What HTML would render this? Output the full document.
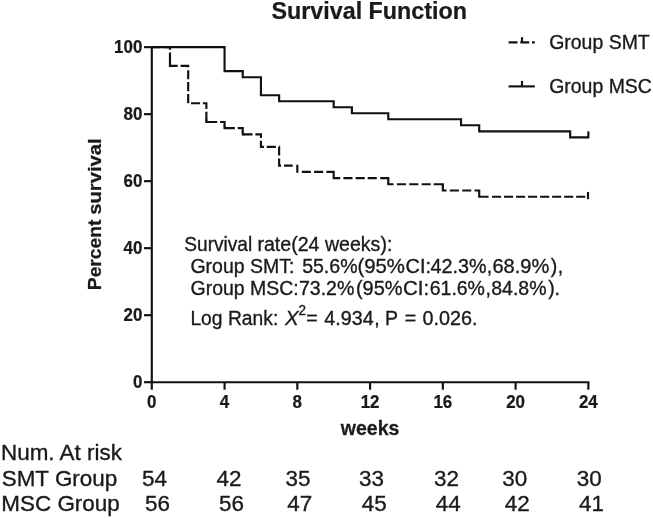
<!DOCTYPE html>
<html><head><meta charset="utf-8"><title>Survival Function</title>
<style>
html,body{margin:0;padding:0;background:#fff;}
body{width:653px;height:518px;overflow:hidden;}
svg{display:block;font-family:"Liberation Sans",Arial,Helvetica,sans-serif;fill:#1a1a1a;}
text{stroke:#1a1a1a;stroke-width:0.35;stroke-linejoin:round;}
.b{font-weight:bold;stroke-width:0.25;}
.ln{fill:none;stroke:#111;stroke-width:2.15;}
</style></head><body>
<svg width="653" height="518" viewBox="0 0 653 518">
<rect width="653" height="518" fill="#fff"/>
<text class="b" transform="translate(369.2 18.6) scale(0.967 1)" font-size="24.1" text-anchor="middle">Survival Function</text>
<path class="ln" d="M151.8 46.15 V383.2"/>
<path class="ln" d="M150.8 382.2 H589.36"/>
<path class="ln" d="M144.0 382.2 H151.8"/>
<text class="b" transform="translate(142.3 388.2) scale(0.94 1)" font-size="18" text-anchor="end">0</text>
<path class="ln" d="M144.0 315.19 H151.8"/>
<text class="b" transform="translate(142.3 321.19) scale(0.94 1)" font-size="18" text-anchor="end">20</text>
<path class="ln" d="M144.0 248.18 H151.8"/>
<text class="b" transform="translate(142.3 254.18) scale(0.94 1)" font-size="18" text-anchor="end">40</text>
<path class="ln" d="M144.0 181.17 H151.8"/>
<text class="b" transform="translate(142.3 187.17) scale(0.94 1)" font-size="18" text-anchor="end">60</text>
<path class="ln" d="M144.0 114.16 H151.8"/>
<text class="b" transform="translate(142.3 120.16) scale(0.94 1)" font-size="18" text-anchor="end">80</text>
<path class="ln" d="M144.0 47.15 H151.8"/>
<text class="b" transform="translate(142.3 53.15) scale(0.94 1)" font-size="18" text-anchor="end">100</text>
<path class="ln" d="M151.8 382.2 V389.7"/>
<text class="b" transform="translate(151.8 407.5) scale(0.94 1)" font-size="18" text-anchor="middle">0</text>
<path class="ln" d="M224.56 382.2 V389.7"/>
<text class="b" transform="translate(224.56 407.5) scale(0.94 1)" font-size="18" text-anchor="middle">4</text>
<path class="ln" d="M297.32 382.2 V389.7"/>
<text class="b" transform="translate(297.32 407.5) scale(0.94 1)" font-size="18" text-anchor="middle">8</text>
<path class="ln" d="M370.08 382.2 V389.7"/>
<text class="b" transform="translate(370.08 407.5) scale(0.94 1)" font-size="18" text-anchor="middle">12</text>
<path class="ln" d="M442.84 382.2 V389.7"/>
<text class="b" transform="translate(442.84 407.5) scale(0.94 1)" font-size="18" text-anchor="middle">16</text>
<path class="ln" d="M515.6 382.2 V389.7"/>
<text class="b" transform="translate(515.6 407.5) scale(0.94 1)" font-size="18" text-anchor="middle">20</text>
<path class="ln" d="M588.36 382.2 V389.7"/>
<text class="b" transform="translate(588.36 407.5) scale(0.94 1)" font-size="18" text-anchor="middle">24</text>
<text class="b" transform="translate(370.1 434.6) scale(1.012 1)" font-size="19.3" text-anchor="middle">weeks</text>
<text class="b" transform="translate(100.8 290.2) rotate(-90) scale(1.003 1)" font-size="19.2">Percent</text>
<text class="b" transform="translate(100.8 138.3) rotate(-90) scale(1.054 1)" font-size="19.2" text-anchor="end">survival</text>
<path class="ln" d="M151.8 47.15 H224.56 V71.19 H242.75 V77.2 H260.94 V95.24 H279.13 V101.25 H333.7 V107.26 H351.89 V113.27 H388.27 V119.28 H461.03 V125.29 H479.22 V131.3 H570.17 V137.31 H588.36"/>
<path class="ln" d="M588.36 138.31 V131.31"/>
<path class="ln" stroke-dasharray="9.1 2.85" stroke-dashoffset="0.35" d="M151.8 47.15 H169.99 V65.85 H188.18 V103.25 H206.37 V121.95 H224.56 V128.18 H242.75 V134.42 H260.94 V146.88 H279.13 V165.58 H292.7"/>
<path class="ln" d="M297.32 164.68 V172.82 M301.8 171.82 H310.9 M314.1 171.82 H323.2 M326.4 171.82 H333.7 V178.05 H340.2 M343.4 178.05 H352.5 M355.7 178.05 H364.8 M367.7 178.05 H376.8 M380.2 178.05 H388.27 V184.28 H393.6 M396.9 184.28 H406.0 M409.2 184.28 H418.3 M421.6 184.28 H430.7 M433.6 184.28 H442.84 V190.52 H446.6 M449.8 190.52 H458.9 M462.2 190.52 H471.3 M474.5 190.52 H479.22 V196.75 H488.6 M492.0 196.75 H501.1 M504.02 196.75 H513.12 M516.04 196.75 H525.14 M528.06 196.75 H537.16 M540.08 196.75 H549.18 M552.1 196.75 H561.2 M564.12 196.75 H573.22 M576.14 196.75 H585.24"/>
<path class="ln" d="M588 199.15 V191.95"/>
<path class="ln" d="M169.99 60.46 L169.99 65.76"/>
<path class="ln" d="M206.37 119.58 L206.37 121.95 L209.0 121.95"/>
<path class="ln" d="M224.56 125.39 L224.56 128.18 L226.77 128.18"/>
<path class="ln" d="M242.75 131.2 L242.75 134.42 L244.53 134.42"/>
<path class="ln" stroke-dasharray="8.9 2.8" d="M508.6 42.4 H534.8"/>
<path class="ln" d="M522 42.4 V37.2"/>
<path class="ln" d="M508.6 86.4 H534.8"/>
<path class="ln" d="M522 86.4 V80.9"/>
<text transform="translate(549.2 48.9) scale(0.94 1)" font-size="20.7">Group SMT</text>
<text transform="translate(549.2 93.3) scale(0.94 1)" font-size="20.7">Group MSC</text>
<text transform="translate(184.3 250.6) scale(0.9184 1)" font-size="20.8">Survival</text>
<text transform="translate(257.47 250.6) scale(0.9414 1)" font-size="20.8">rate(24 weeks):</text>
<text transform="translate(190.4 272.6) scale(0.9382 1)" font-size="20.8">Group SMT:</text>
<text transform="translate(302.14 272.6) scale(0.94 1)" font-size="20.8">55.6%</text>
<text transform="translate(357.38 272.6) scale(0.9812 1)" font-size="20.8">(95%</text>
<text transform="translate(405.62 272.6) scale(0.9588 1)" font-size="20.8">CI:</text>
<text transform="translate(430.61 272.6) scale(0.9502 1)" font-size="20.8">42.3%</text>
<text transform="translate(486.65 272.6) scale(0.94 1)" font-size="20.8">,</text>
<text transform="translate(492.48 272.6) scale(0.9637 1)" font-size="20.8">68.9%</text>
<text transform="translate(550.82 272.6) scale(0.94 1)" font-size="20.8">)</text>
<text transform="translate(557.73 272.6) scale(0.94 1)" font-size="20.8">,</text>
<text transform="translate(190.5 294.7) scale(0.9374 1)" font-size="20.8">Group MSC:</text>
<text transform="translate(298.95 294.7) scale(0.94 1)" font-size="20.8">73.2%</text>
<text transform="translate(355.89 294.7) scale(0.9606 1)" font-size="20.8">(95%</text>
<text transform="translate(402.94 294.7) scale(0.9851 1)" font-size="20.8">CI:</text>
<text transform="translate(429.72 294.7) scale(0.9366 1)" font-size="20.8">61.6%</text>
<text transform="translate(485.46 294.7) scale(0.94 1)" font-size="20.8">,</text>
<text transform="translate(491.29 294.7) scale(0.9366 1)" font-size="20.8">84.8%</text>
<text transform="translate(548.23 294.7) scale(0.94 1)" font-size="20.8">)</text>
<text transform="translate(554.54 294.7) scale(0.94 1)" font-size="20.8">.</text>
<text transform="translate(190.4 324.8) scale(0.9273 1)" font-size="20.8">Log Rank:</text>
<text transform="translate(284.96 324.8) scale(0.987 1)" font-size="20.8" font-style="italic">X</text>
<text transform="translate(298.4 315.2) scale(0.95 1)" font-size="14.2">2</text>
<text transform="translate(306.16 324.8) scale(0.94 1)" font-size="20.8">=</text>
<text transform="translate(324.31 324.8) scale(0.9477 1)" font-size="20.8">4.934</text>
<text transform="translate(374.24 324.8) scale(0.94 1)" font-size="20.8">,</text>
<text transform="translate(385.1 324.8) scale(0.94 1)" font-size="20.8">P</text>
<text transform="translate(404.78 324.8) scale(0.94 1)" font-size="20.8">=</text>
<text transform="translate(422.43 324.8) scale(0.9515 1)" font-size="20.8">0.026</text>
<text transform="translate(471.95 324.8) scale(0.94 1)" font-size="20.8">.</text>
<text transform="translate(1 459.7) scale(0.985 1)" font-size="22.8">Num. At risk</text>
<text transform="translate(1.7 485.8) scale(0.985 1)" font-size="22.8">SMT Group</text>
<text transform="translate(1.3 511.3) scale(0.985 1)" font-size="22.8">MSC Group</text>
<text transform="translate(154.6 485.8) scale(0.985 1)" font-size="22.8" text-anchor="middle">54</text>
<text transform="translate(228.9 485.8) scale(0.985 1)" font-size="22.8" text-anchor="middle">42</text>
<text transform="translate(298 485.8) scale(0.985 1)" font-size="22.8" text-anchor="middle">35</text>
<text transform="translate(371.6 485.8) scale(0.985 1)" font-size="22.8" text-anchor="middle">33</text>
<text transform="translate(446.4 485.8) scale(0.985 1)" font-size="22.8" text-anchor="middle">32</text>
<text transform="translate(514.8 485.8) scale(0.985 1)" font-size="22.8" text-anchor="middle">30</text>
<text transform="translate(589.3 485.8) scale(0.985 1)" font-size="22.8" text-anchor="middle">30</text>
<text transform="translate(157.5 511.3) scale(0.985 1)" font-size="22.8" text-anchor="middle">56</text>
<text transform="translate(231.6 511.3) scale(0.985 1)" font-size="22.8" text-anchor="middle">56</text>
<text transform="translate(299.8 511.3) scale(0.985 1)" font-size="22.8" text-anchor="middle">47</text>
<text transform="translate(374.2 511.3) scale(0.985 1)" font-size="22.8" text-anchor="middle">45</text>
<text transform="translate(448.3 511.3) scale(0.985 1)" font-size="22.8" text-anchor="middle">44</text>
<text transform="translate(517.2 511.3) scale(0.985 1)" font-size="22.8" text-anchor="middle">42</text>
<text transform="translate(591.5 511.3) scale(0.985 1)" font-size="22.8" text-anchor="middle">41</text>
</svg>
</body></html>
